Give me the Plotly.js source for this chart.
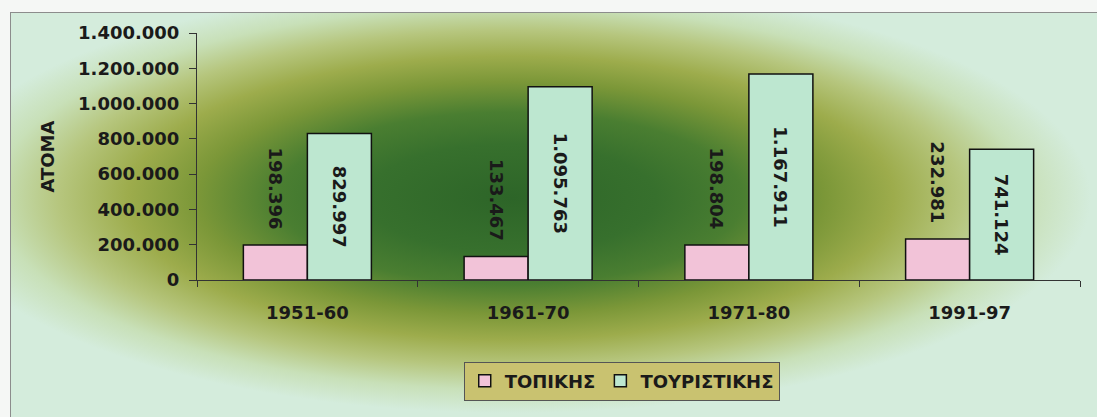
<!DOCTYPE html>
<html>
<head>
<meta charset="utf-8">
<script src="https://cdn.plot.ly/plotly-3.0.1.min.js"></script>
<style>
  html, body { margin: 0; padding: 0; background: #f5f7f5; }
  #wrap { position: relative; width: 1097px; height: 417px; overflow: hidden; }
  #bg {
    position: absolute; left: 10px; top: 12px; width: 1100px; height: 420px;
    border-left: 1.5px solid #8c8c8c; border-top: 1.5px solid #8c8c8c;
    background:
      radial-gradient(ellipse 580px 215px at 500px 185px,
        #2d6528 0%, #37702d 25%, #4a7e31 40%, #7b9738 54%, #9dac4c 66%, #b6c67e 78%, #c8e0b8 89%, #d4ecdc 100%);
    background-color: #d4ecdc;
  }
  #chart { position: absolute; left: 0; top: 0; width: 1097px; height: 417px; }
</style>
</head>
<body>
<div id="wrap">
  <div id="bg"></div>
  <div id="chart"></div>
</div>
<script>
const categories = ["1951-60", "1961-70", "1971-80", "1991-97"];
const topikis = [198396, 133467, 198804, 232981];
const touristikis = [829997, 1095763, 1167911, 741124];
const seriesNames = ["ΤΟΠΙΚΗΣ", "ΤΟΥΡΙΣΤΙΚΗΣ"];
const yTickVals = [0, 200000, 400000, 600000, 800000, 1000000, 1200000, 1400000];

function fmt(v) {
  return String(v).replace(/\B(?=(\d{3})+(?!\d))/g, ".");
}

const FONT = "DejaVu Sans, Arial, sans-serif";
const textFont = { family: FONT, size: 18, color: "#1a1a1a", weight: "bold" };

const traces = [
  {
    type: "bar", name: seriesNames[0], x: categories, y: topikis,
    text: topikis.map(v => fmt(v) + "\u00a0\u00a0"), textposition: "outside", textangle: 90,
    textfont: textFont, cliponaxis: false, constraintext: "none",
    marker: { color: "#f2c3d8", line: { color: "#111", width: 1.5 } },
    hoverinfo: "none"
  },
  {
    type: "bar", name: seriesNames[1], x: categories, y: touristikis,
    text: touristikis.map(fmt), textposition: "inside", textangle: 90,
    insidetextanchor: "middle", constraintext: "none",
    textfont: textFont, insidetextfont: textFont,
    marker: { color: "#bde7d0", line: { color: "#111", width: 1.5 } },
    hoverinfo: "none"
  }
];

const layout = {
  width: 1097, height: 417,
  margin: { l: 197, r: 17, t: 33, b: 137 },
  paper_bgcolor: "rgba(0,0,0,0)",
  plot_bgcolor: "rgba(0,0,0,0)",
  barmode: "group", bargap: 0.42, bargroupgap: 0,
  showlegend: true,
  font: { family: FONT, size: 18, color: "#1a1a1a", weight: "bold" },
  xaxis: {
    type: "category", showline: true, linecolor: "#333", linewidth: 1,
    ticks: "outside", tickson: "boundaries", ticklen: 6, tickcolor: "#333",
    showgrid: false, zeroline: false, ticklabelstandoff: 16,
    tickfont: { family: FONT, size: 18, color: "#1a1a1a", weight: "bold" },
    automargin: false
  },
  yaxis: {
    range: [0, 1400000], tickvals: yTickVals, ticktext: yTickVals.map(fmt),
    showline: true, linecolor: "#333", linewidth: 1,
    ticks: "outside", ticklen: 7, tickcolor: "#333",
    showgrid: false, zeroline: false, ticklabelstandoff: 6,
    tickfont: { family: FONT, size: 18, color: "#1a1a1a", weight: "bold" },
    title: { text: "ATOMA", font: { family: FONT, size: 18, color: "#1a1a1a", weight: "bold" }, standoff: 18 },
    automargin: false
  },
  legend: {
    orientation: "h", x: 0.481, xanchor: "center", y: -0.33, yanchor: "top",
    bgcolor: "#c9c270", bordercolor: "#555", borderwidth: 1,
    font: { family: FONT, size: 18, color: "#1a1a1a", weight: "bold" },
    itemclick: false, itemdoubleclick: false
  }
};

Plotly.newPlot("chart", traces, layout, { displayModeBar: false, staticPlot: true });
</script>
</body>
</html>
